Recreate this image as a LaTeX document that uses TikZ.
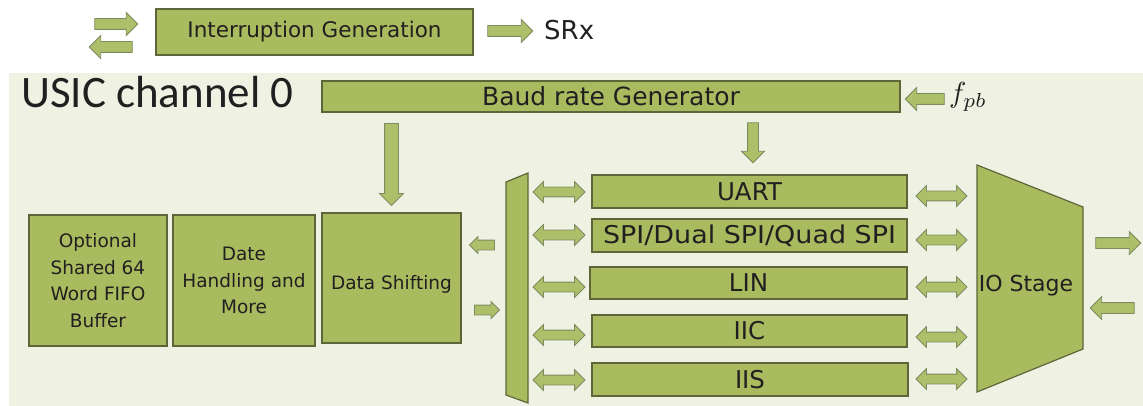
\documentclass[tikz,border=0pt]{standalone}
\usepackage{fontspec}
\setmainfont{DejaVu Sans}
\newfontfamily\calfont{Carlito}
\usetikzlibrary{shapes.arrows}

\definecolor{panelbg}{HTML}{EFF1E3}
\definecolor{boxfill}{HTML}{A9BB5E}
\definecolor{boxline}{HTML}{5C6638}
\definecolor{arrfill}{HTML}{ADBF68}
\definecolor{arrline}{HTML}{7E8A60}
\definecolor{inkgray}{HTML}{202020}

\tikzset{
  blk/.style={draw=boxline, fill=boxfill, line width=1.2pt, inner sep=0pt,
    align=center, text=inkgray},
  boxtext/.style={align=center, text=inkgray, inner sep=0pt,
    font=\fontsize{18.5}{26.5}\selectfont},
  prototext/.style={font=\fontsize{24.5}{28}\selectfont},
  fat/.style={single arrow, draw=arrline, fill=arrfill, line width=0.8pt,
    minimum width=0pt, inner sep=0pt, inner ysep=5pt,
    single arrow head extend=6pt, single arrow tip angle=90},
  thin/.style={fat, inner ysep=4.5pt, single arrow head extend=3.5pt},
  heavy/.style={fat, inner ysep=6.5pt, single arrow head extend=5pt},
  twin/.style={double arrow, draw=arrline, fill=arrfill, line width=0.8pt,
    minimum width=0pt, inner sep=0pt, inner ysep=4.5pt,
    double arrow head extend=5.5pt, double arrow tip angle=90,
    minimum height=52pt},
  stage/.style={draw=boxline, fill=boxfill, line width=1.2pt},
}

\begin{document}
\begin{tikzpicture}[x=1pt, y=-1pt]
\useasboundingbox (0,0) rectangle (1143,406);

% channel panel
\fill[panelbg] (9,73) rectangle (1143,406);

% interrupt generation row
\node[fat, minimum height=43pt] (inR) at (113.5,24) {};
\node[fat, minimum height=43pt, rotate=180] (inL) at (113.5,47) {};
\node[blk, minimum width=317pt, minimum height=46pt,
  font=\fontsize{21.5}{24}\selectfont] (intr) at (314.5,32) {Interruption Generation};
\node[fat, minimum height=45pt] (srxarrow) at (507.5,31) {};
\node[anchor=base west, inner sep=0pt, text=inkgray,
  font=\fontsize{26}{28}\selectfont] (srx) at (544,40) {SRx};

% channel title and baud rate generator
\node[anchor=base west, inner sep=0pt, text=inkgray,
  font=\calfont\fontsize{45}{48}\selectfont] (title) at (21,108) {USIC channel 0};
\node[blk, minimum width=578pt, minimum height=31pt,
  font=\fontsize{25}{28}\selectfont] (baud) at (611,96.5) {Baud rate Generator};
\node[fat, minimum height=39pt, rotate=180] (fpbarrow) at (927.5,99) {};
\node[anchor=west, inner sep=0pt, text=inkgray] (fpb) at (949,97)
  {\scalebox{2.9}{$f_{pb}$}};

% clock distribution
\node[heavy, minimum height=82pt, rotate=-90] (clkA) at (391.5,161) {};
\node[fat, minimum height=40pt, rotate=-90] (clkB) at (753,140) {};

% data path blocks
\node[blk, minimum width=138pt, minimum height=131pt] (fifo) at (98,280.5) {};
\node[boxtext] at (fifo.center) {Optional\\Shared 64\\Word FIFO\\Buffer};
\node[blk, minimum width=142pt, minimum height=131pt] (dh) at (244,280.5) {};
\node[boxtext] at (dh.center) {Date\\Handling and\\More};
\node[blk, minimum width=139pt, minimum height=130pt] (ds) at (391.5,278) {};
\node[boxtext] at ([yshift=-6pt]ds.center) {Data Shifting};

\node[thin, minimum height=25pt, rotate=180] (dsin) at (484.5,245) {};
\node[thin, minimum height=25pt] (dsout) at (484.5,310) {};

% protocol multiplexer
\draw[stage] (506,182) -- (528,173) -- (528,403) -- (506,395) -- cycle;
\coordinate (mux) at (517,288);

% protocol pre-processors
\node[blk, prototext, minimum width=315pt, minimum height=33pt] (uart) at (749.5,191.5) {UART};
\node[blk, prototext, minimum width=315pt, minimum height=33pt] (spi) at (749.5,235.5)
  {\scalebox{1.1}[1]{SPI/Dual\ SPI/Quad\ SPI}};
\node[blk, prototext, minimum width=317pt, minimum height=32pt] (lin) at (748.5,283) {LIN};
\node[blk, prototext, minimum width=315pt, minimum height=32pt] (iic) at (749.5,331) {IIC};
\node[blk, prototext, minimum width=316pt, minimum height=33pt] (iis) at (750,379.5) {IIS};

% links to the multiplexer
\node[twin] (muxA) at (559,192) {};
\node[twin] (muxB) at (559,235) {};
\node[twin] (muxC) at (559,287) {};
\node[twin] (muxD) at (559,335) {};
\node[twin] (muxE) at (559,380) {};

% links to the IO stage
\node[twin, minimum height=51pt] (ioA) at (941.5,196) {};
\node[twin, minimum height=51pt] (ioB) at (941.5,240) {};
\node[twin, minimum height=51pt] (ioC) at (941.5,287) {};
\node[twin, minimum height=51pt] (ioD) at (941.5,337) {};
\node[twin, minimum height=51pt] (ioE) at (941.5,379) {};

% IO stage
\draw[stage] (977,165) -- (1083,207) -- (1083,349) -- (977,392) -- cycle;
\node[inner sep=0pt, text=inkgray, font=\fontsize{22}{24}\selectfont] (io) at (1026,286) {IO Stage};

\node[fat, minimum height=45pt] (pinout) at (1115.5,243) {};
\node[fat, minimum height=44pt, rotate=180] (pinin) at (1115,308) {};
\end{tikzpicture}
\end{document}
